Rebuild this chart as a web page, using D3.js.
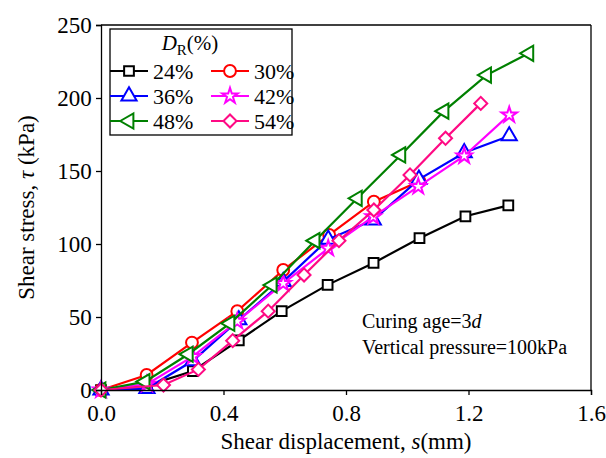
<!DOCTYPE html>
<html>
<head>
<meta charset="utf-8">
<script src="https://cdn.jsdelivr.net/npm/d3@7"></script>
<style>
  body { margin: 0; background: #fff; }
  svg { display: block; font-family: 'Liberation Serif', 'Times New Roman', serif; }
</style>
</head>
<body>
<div id="chart"></div>
<script>
// shear displacement (mm) / shear stress (kPa), one pair of arrays per D_R
const x24 = [0, 0.15, 0.30, 0.45, 0.59, 0.74, 0.89, 1.04, 1.19, 1.33]
const y24 = [0, 3, 13, 34, 54, 72, 87, 104, 119, 126.5]
const x30 = [0, 0.149, 0.297, 0.445, 0.595, 0.745, 0.891, 1.04]
const y30 = [0, 10.3, 32.5, 54, 82.2, 106.2, 129, 143]
const x36 = [0, 0.15, 0.30, 0.45, 0.595, 0.742, 0.889, 1.038, 1.186, 1.333]
const y36 = [0, 1, 20, 48, 74.2, 103.2, 116.4, 144.3, 162.5, 174]
const x42 = [0, 0.15, 0.30, 0.445, 0.595, 0.742, 0.889, 1.036, 1.186, 1.333]
const y42 = [0, 4, 23, 47, 73, 97, 118.7, 139.3, 160.3, 188.4]
const x48 = [0, 0.144, 0.285, 0.421, 0.559, 0.699, 0.837, 0.979, 1.12, 1.259, 1.397]
const y48 = [0, 5.7, 24.5, 45.7, 71.9, 102.3, 131.3, 161, 191, 215.7, 230.6]
const x54 = [0, 0.204, 0.318, 0.43, 0.546, 0.663, 0.777, 0.891, 1.009, 1.125, 1.24]
const y54 = [0, 3.4, 14.1, 33.8, 54, 78.8, 102.3, 123.3, 147.3, 172.4, 196.3]

const labels = ['24%', '30%', '36%', '42%', '48%', '54%']
const colors = ['#000000', '#ff0000', '#0000ff', '#ff00ff', '#008000', '#ff0a84']
const shapes = ['square', 'circle', 'triUp', 'star', 'triLeft', 'diamond']
const xs = [x24, x30, x36, x42, x48, x54]
const ys = [y24, y30, y36, y42, y48, y54]
const xTicks = [0, 0.4, 0.8, 1.2, 1.6]
const yTicks = [0, 50, 100, 150, 200, 250]

const width = 606, height = 458
const margin = { top: 25, right: 15, bottom: 68, left: 101 }
const iw = width - margin.left - margin.right
const ih = height - margin.top - margin.bottom

const svg = d3.select('#chart').append('svg')
  .attr('width', width)
  .attr('height', height)

const g = svg.append('g').attr('transform', `translate(${margin.left},${margin.top})`)

const x = d3.scaleLinear().domain([0, 1.6]).range([0, iw])
const y = d3.scaleLinear().domain([0, 250]).range([ih, 0])

// markers
function symbolPath(shape) {
  if (shape === 'square') return d3.symbol(d3.symbolSquare, 95)()
  if (shape === 'circle') return d3.symbol(d3.symbolCircle, 110)()
  if (shape === 'triUp' || shape === 'triLeft') return d3.symbol(d3.symbolTriangle, 100)()
  if (shape === 'star') return d3.symbol(d3.symbolStar, 75)()
  return d3.symbol(d3.symbolSquare, 85)()
}
function symbolRot(shape) {
  if (shape === 'triLeft') return -90
  if (shape === 'diamond') return 45
  return 0
}

const line = d3.line().x(d => x(d[0])).y(d => y(d[1]))

labels.forEach((lab, i) => {
  const pts = xs[i].map((v, j) => [v, ys[i][j]])
  const sg = g.append('g')
  sg.append('path')
    .datum(pts)
    .attr('d', line)
    .attr('fill', 'none')
    .attr('stroke', colors[i])
    .attr('stroke-width', 2.2)
  sg.selectAll('path.mk')
    .data(pts)
    .join('path')
    .attr('class', 'mk')
    .attr('d', symbolPath(shapes[i]))
    .attr('transform', d => `translate(${x(d[0])},${y(d[1])}) rotate(${symbolRot(shapes[i])})`)
    .attr('fill', '#fff')
    .attr('stroke', colors[i])
    .attr('stroke-width', 2)
})

// axes
const xAxis = g.append('g')
  .attr('transform', `translate(0,${ih})`)
  .call(d3.axisBottom(x).tickValues(xTicks).tickFormat(d3.format('.1f')).tickSizeOuter(0).tickSize(5))
const yAxis = g.append('g')
  .call(d3.axisLeft(y).tickValues(yTicks).tickSizeOuter(0).tickSize(5))

;[xAxis, yAxis].forEach(ax => {
  ax.select('.domain').attr('stroke', '#000').attr('stroke-width', 1.3)
  ax.selectAll('.tick line').attr('stroke', '#000').attr('stroke-width', 1.3)
  ax.selectAll('.tick text')
    .attr('font-family', 'Liberation Serif, serif')
    .attr('font-size', 23)
    .attr('fill', '#000')
})
xAxis.selectAll('.tick text').attr('dy', '1.0em')
yAxis.selectAll('.tick text').attr('dx', '-0.05em')

// frame top and right
g.append('line').attr('x1', 0).attr('x2', iw).attr('y1', 0).attr('y2', 0)
  .attr('stroke', '#000').attr('stroke-width', 1.3)
g.append('line').attr('x1', iw).attr('x2', iw).attr('y1', 0).attr('y2', ih)
  .attr('stroke', '#000').attr('stroke-width', 1.3)

// axis titles
const xt = svg.append('text')
  .attr('x', margin.left + iw / 2)
  .attr('y', 449)
  .attr('text-anchor', 'middle')
  .attr('font-size', 23)
xt.append('tspan').text('Shear displacement, ')
xt.append('tspan').attr('font-style', 'italic').text('s')
xt.append('tspan').text('(mm)')

const yt = svg.append('text')
  .attr('transform', `translate(34,${margin.top + ih / 2}) rotate(-90)`)
  .attr('text-anchor', 'middle')
  .attr('font-size', 23)
yt.append('tspan').text('Shear stress, ')
yt.append('tspan').attr('font-style', 'italic').text('τ')
yt.append('tspan').text(' (kPa)')

// legend
const lg = svg.append('g').attr('transform', 'translate(110,29)')
lg.append('rect')
  .attr('width', 182).attr('height', 106)
  .attr('fill', '#fff').attr('stroke', '#000').attr('stroke-width', 1.3)
const lt = lg.append('text')
  .attr('x', 80).attr('y', 21)
  .attr('text-anchor', 'middle')
  .attr('font-size', 21)
lt.append('tspan').attr('font-style', 'italic').text('D')
lt.append('tspan').attr('font-size', 15).attr('dy', 5).text('R')
lt.append('tspan').attr('dy', -5).text('(%)')

labels.forEach((lab, i) => {
  const col = i % 2, row = Math.floor(i / 2)
  const item = lg.append('g')
    .attr('transform', `translate(${col * 101},${42 + row * 25})`)
  item.append('line')
    .attr('x1', 0).attr('x2', 38)
    .attr('stroke', colors[i]).attr('stroke-width', 2.2)
  item.append('path')
    .attr('d', symbolPath(shapes[i]))
    .attr('transform', `translate(19,0) rotate(${symbolRot(shapes[i])})`)
    .attr('fill', '#fff')
    .attr('stroke', colors[i])
    .attr('stroke-width', 2)
  item.append('text')
    .attr('x', 43).attr('y', 7.5)
    .attr('font-size', 22)
    .text(lab)
})

// note
const note = svg.append('text').attr('font-size', 20)
const n1 = note.append('tspan').attr('x', 362).attr('y', 328)
n1.append('tspan').text('Curing age=3')
n1.append('tspan').attr('font-style', 'italic').text('d')
note.append('tspan').attr('x', 362).attr('y', 354).text('Vertical pressure=100kPa')
</script>
</body>
</html>
